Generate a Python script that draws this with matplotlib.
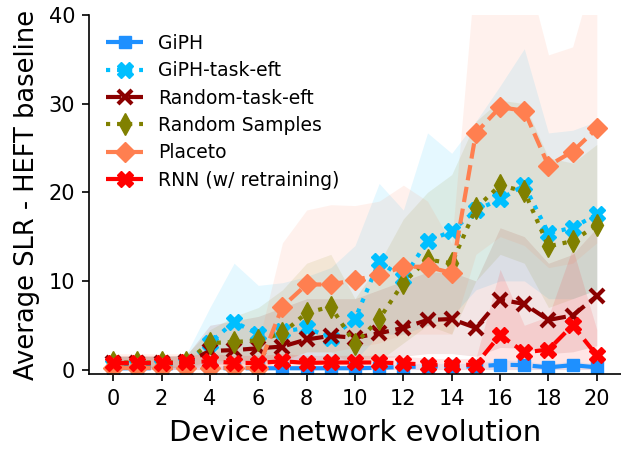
import matplotlib
matplotlib.use("Agg")
import matplotlib.pyplot as plt
import numpy as np

x = list(range(21))

giph = [0.15, 0.15, 0.15, 0.15, 0.15, 0.15, 0.15, 0.15, 0.15, 0.15, 0.15,
        0.2, 0.3, 0.35, 0.35, 0.35, 0.55, 0.5, 0.25, 0.5, 0.25]
giph_lo = [0.0, 0.0, 0.0, 0.0, 0.0, 0.0, 0.0, 0.0, 0.0, 0.0, 0.0,
           0.0, 0.0, 0.0, 0.0, 0.0, 0.0, 0.0, 0.0, 0.0, 0.0]
giph_hi = [0.4, 0.4, 0.4, 0.4, 0.4, 0.4, 0.4, 0.4, 0.4, 0.4, 0.4,
           0.5, 0.6, 0.7, 0.7, 0.7, 1.1, 1.0, 0.6, 1.0, 0.6]

giph_task = [0.5, 0.5, 0.5, 0.7, 3.0, 5.4, 4.0, 4.3, 4.7, 3.6, 5.7,
             12.2, 10.3, 14.5, 15.6, 18.0, 19.2, 20.8, 15.4, 16.0, 17.5]
giph_task_lo = [0.0, 0.0, 0.0, 0.0, 0.5, 1.0, 1.0, 1.0, 1.0, 0.5, 1.0,
                4.0, 4.0, 5.0, 6.0, 9.0, 10.0, 10.0, 8.0, 8.0, 9.0]
giph_task_hi = [1.5, 1.5, 1.5, 1.6, 7.0, 12.0, 9.5, 9.8, 10.5, 11.5, 14.0,
                21.0, 18.0, 26.7, 24.4, 28.0, 32.0, 36.2, 26.7, 27.0, 28.0]

rand_task = [0.7, 0.7, 0.7, 0.8, 2.1, 2.2, 2.4, 2.6, 3.4, 3.8, 3.6,
             4.1, 4.7, 5.6, 5.7, 4.7, 7.9, 7.4, 5.6, 6.1, 8.3]
rand_task_lo = [0.2, 0.2, 0.2, 0.2, 0.6, 0.6, 0.7, 0.8, 1.0, 1.2, 1.1,
                1.3, 1.5, 1.8, 1.8, 1.5, 2.5, 2.4, 1.8, 2.0, 2.7]
rand_task_hi = [1.5, 1.5, 1.5, 1.5, 5.0, 5.5, 6.0, 7.0, 8.0, 8.0, 8.0,
                9.0, 10.0, 11.0, 11.0, 10.0, 16.0, 15.0, 12.0, 13.0, 16.0]

rand_samples = [0.8, 0.8, 0.8, 0.8, 3.0, 3.1, 3.3, 4.1, 6.4, 7.1, 2.9,
                5.7, 9.8, 12.4, 12.0, 18.2, 20.8, 20.1, 13.9, 14.5, 16.3]
rand_samples_lo = [0.2, 0.2, 0.2, 0.2, 1.0, 1.0, 1.0, 1.0, 2.0, 2.0, 0.5,
                   1.0, 3.0, 5.0, 4.0, 10.0, 13.0, 12.0, 7.0, 8.0, 9.0]
rand_samples_hi = [1.5, 1.5, 1.5, 1.6, 4.5, 6.0, 7.0, 9.0, 12.0, 13.0, 8.0,
                   12.0, 17.0, 20.0, 22.0, 28.0, 30.4, 30.0, 23.9, 23.3, 25.4]

placeto = [0.2, 0.2, 0.2, 0.2, 0.2, 0.2, 0.2, 7.1, 9.6, 9.6, 10.1,
           10.7, 11.6, 11.6, 10.9, 26.7, 29.6, 29.2, 23.0, 24.6, 27.2]
placeto_lo = [0.0, 0.0, 0.0, 0.0, 0.0, 0.0, 0.0, 1.0, 2.0, 2.0, 2.5,
              3.0, 4.0, 4.0, 4.0, 13.0, 15.0, 14.0, 11.5, 12.0, 14.3]
placeto_hi = [1.8, 1.8, 1.8, 1.8, 2.0, 2.2, 3.0, 14.3, 18.0, 18.6, 18.5,
              19.0, 20.8, 19.0, 14.2, 46.0, 46.0, 46.0, 35.5, 36.4, 46.0]

rnn = [0.75, 0.75, 0.75, 0.8, 0.95, 0.75, 0.75, 0.94, 0.75, 0.8, 0.8,
       0.8, 0.7, 0.56, 0.5, 0.56, 3.9, 1.95, 2.25, 5.0, 1.6]
rnn_lo = [0.0, 0.0, 0.0, 0.0, 0.0, 0.0, 0.0, 0.0, 0.0, 0.0, 0.0,
          0.0, 0.0, 0.0, 0.0, 0.0, 0.0, 0.0, 0.0, 0.0, 0.0]
rnn_hi = [1.6, 1.6, 1.6, 1.6, 1.8, 1.6, 1.6, 1.8, 1.6, 1.6, 1.6,
          1.6, 1.5, 1.3, 1.2, 1.3, 11.3, 5.0, 6.0, 13.7, 4.5]

xticks = list(range(0, 21, 2))
yticks = [0, 10, 20, 30, 40]

series = [
    ("GiPH", giph, giph_lo, giph_hi, "dodgerblue", "--", "s", 9, 1),
    ("GiPH-task-eft", giph_task, giph_task_lo, giph_task_hi, "deepskyblue", ":", "X", 11, 1),
    ("Random-task-eft", rand_task, rand_task_lo, rand_task_hi, "darkred", "--", "x", 10, 3),
    ("Random Samples", rand_samples, rand_samples_lo, rand_samples_hi, "olive", ":", "d", 11, 1),
    ("Placeto", placeto, placeto_lo, placeto_hi, "coral", "--", "D", 10, 1),
    ("RNN (w/ retraining)", rnn, rnn_lo, rnn_hi, "red", "--", "X", 11, 1),
]

plt.rcParams["font.family"] = ["DejaVu Sans"]
fig = plt.figure(figsize=(6.21, 4.49), dpi=100)
ax = fig.add_axes([0.1433, 0.167, 0.8567, 0.7996])

for label, m, lo, hi, c, ls, mk, ms, mew in series:
    ax.fill_between(x, lo, hi, color=c, alpha=0.1, linewidth=0)
for label, m, lo, hi, c, ls, mk, ms, mew in series:
    ax.plot(x, m, linestyle=ls, color=c, marker=mk, markersize=ms,
            markeredgewidth=mew, linewidth=3, label=label)

ax.set_xlim(-1, 21)
ax.set_ylim(-0.5, 40)
ax.set_xticks(xticks)
ax.set_yticks(yticks)
ax.tick_params(axis="both", labelsize=15, length=5, width=1.2)
ax.tick_params(axis="y", pad=5)
ax.tick_params(axis="x", pad=6)
for s in ["top", "right"]:
    ax.spines[s].set_visible(False)
ax.spines["left"].set_linewidth(1.2)
ax.spines["bottom"].set_linewidth(1.2)
ax.set_xlabel("Device network evolution", fontsize=21, labelpad=7)
ax.set_ylabel("Average SLR - HEFT baseline", fontsize=18.5, labelpad=6)
ax.legend(loc="upper left", frameon=False, fontsize=13.5, numpoints=1,
          bbox_to_anchor=(0.0, 0.995), labelspacing=0.45)

fig.savefig("out.png", dpi=100)
